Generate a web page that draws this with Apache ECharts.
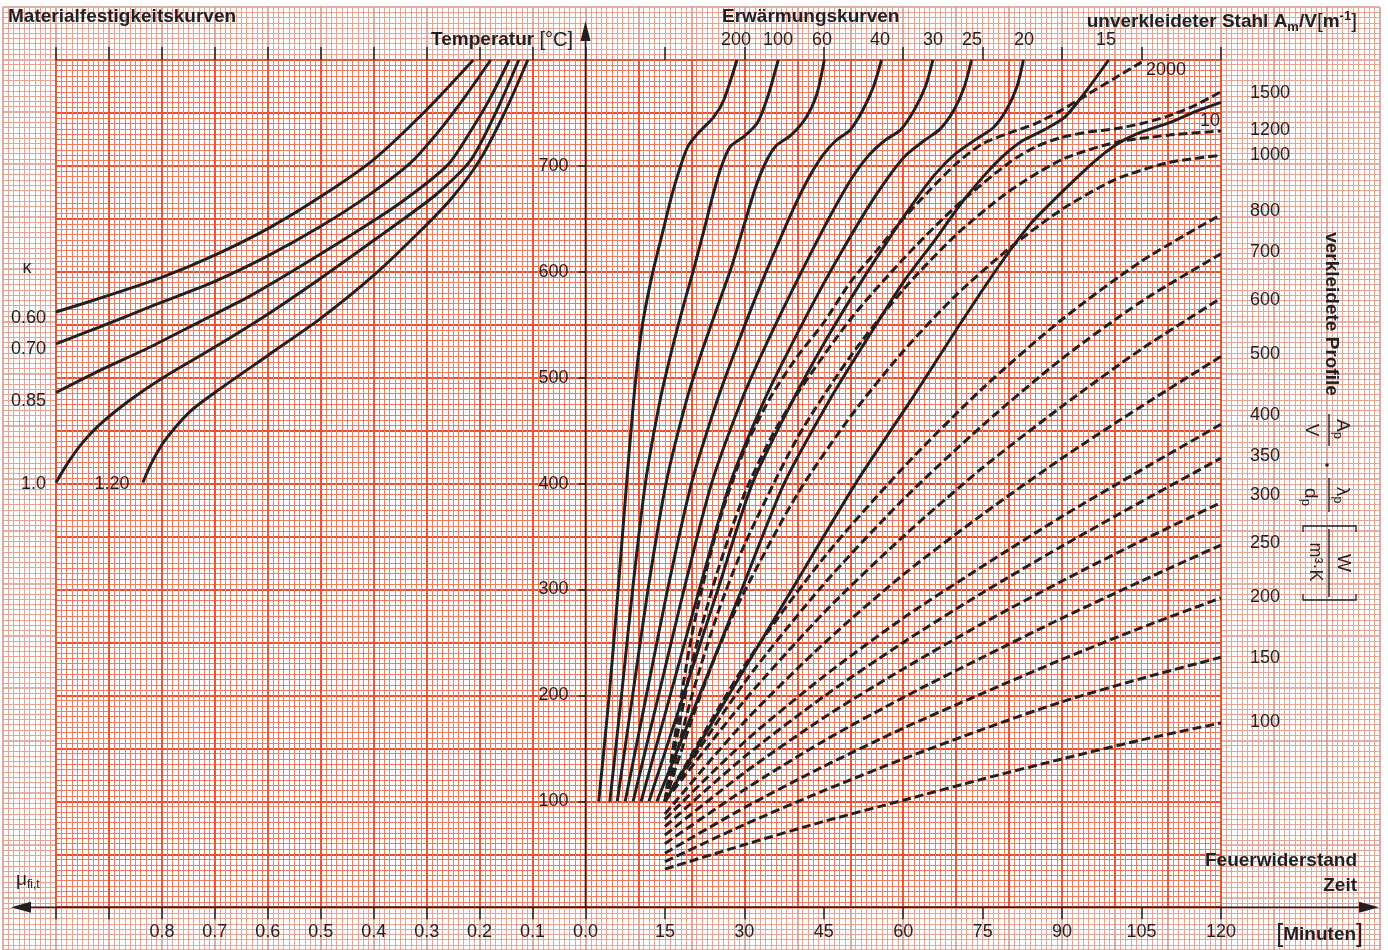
<!DOCTYPE html>
<html><head><meta charset="utf-8">
<script src="https://cdn.jsdelivr.net/npm/echarts@6/dist/echarts.min.js"></script>
<style>html,body{margin:0;padding:0;background:#fff}#c{width:1388px;height:950px}</style>
</head><body><div id="c"></div>
<script>
// ---------------- DATA ----------------
// Material strength curves: [mu_fi,t , temperature °C], one per kappa
const kappaLabels = ['0.60','0.70','0.85','1.0','1.20'];
const kappa060 = [[1.0,562],[0.899,578],[0.799,595],[0.699,616],[0.599,641],[0.5,671],[0.4,706],[0.3,753],[0.212,800]];
const kappa070 = [[1.0,532],[0.917,548],[0.817,568],[0.7,591],[0.6,615],[0.5,643],[0.413,671],[0.33,703],[0.275,734],[0.228,765],[0.179,800]];
const kappa085 = [[1.0,486],[0.917,507],[0.822,529],[0.728,553],[0.634,577],[0.539,605],[0.445,634],[0.35,665],[0.26,701],[0.218,732],[0.18,764],[0.144,800]];
const kappa100 = [[1.0,401],[0.977,420],[0.951,438],[0.917,456],[0.86,479],[0.798,500],[0.7,529],[0.6,560],[0.5,594],[0.399,630],[0.282,673],[0.216,706],[0.167,753],[0.126,800]];
const kappa120 = [[0.836,401],[0.819,420],[0.794,441],[0.747,468],[0.7,486],[0.6,521],[0.5,556],[0.399,597],[0.313,638],[0.252,670],[0.199,706],[0.152,751],[0.109,800]];

// Heating curves, unclad steel (solid): [minutes, °C], labelled by A_m/V
const steelLabels = ['200','100','60','40','30','25','20','15','10'];
const steel200 = [[2.5,100],[4.4,196],[6,290],[7.5,384],[9.1,479],[10.6,545],[12.5,595],[14.5,636],[16.4,674],[17.9,699],[19.3,718],[21.3,731],[24.2,746],[26.1,762],[28.6,800]];
const steel100 = [[4.6,100],[6.8,200],[8.9,300],[11.3,400],[14.1,479],[16.5,530],[18.6,570],[20.3,600],[22.2,636],[24.2,675],[25.7,700],[27.3,718],[30,728],[32.5,741],[34.4,765],[36.4,800]];
const steel60 = [[6,100],[8.9,200],[11.8,300],[15.2,400],[19.1,479],[22,525],[25,568],[27.6,605],[30,645],[32,678],[34,703],[36,719],[38.8,729],[41.7,746],[43.7,768],[45.1,800]];
const steel40 = [[7.5,100],[11.5,200],[15.5,300],[20,400],[24.9,479],[28.6,530],[32.3,578],[35.8,620],[39.3,660],[42.3,690],[44.8,710],[47.3,724],[50,734],[52.3,752],[54.4,775],[55.9,800]];
const steel30 = [[9,100],[13.8,200],[18.6,300],[23.8,400],[29.5,479],[34,530],[38.5,577],[42.8,620],[47,660],[50.5,690],[53.5,710],[56.5,724],[59.5,734],[62,752],[64.2,775],[65.6,800]];
const steel25 = [[10.5,100],[16,200],[21.5,300],[27.3,400],[33.8,479],[38.8,530],[43.8,578],[48.5,620],[53,658],[57,688],[60.5,710],[64,724],[67,735],[69.5,752],[71.5,774],[72.9,800]];
const steel20 = [[12,100],[18.5,200],[25,300],[31.5,400],[39.2,479],[45,532],[51,582],[56.5,625],[61.5,662],[66,692],[70,712],[74,726],[77,736],[79.5,753],[81.5,775],[82.7,800]];
const steel15 = [[13.5,100],[21.5,200],[29.5,300],[37.5,400],[46.1,479],[53,535],[60,590],[66,630],[71,665],[75.5,692],[79,710],[82.6,724],[86.6,734],[90.5,746],[94.3,769],[98.8,800]];
const steel10 = [[15,100],[27,200],[39,300],[51,400],[61.5,479],[70,545],[78,605],[84,645],[88.5,668],[92.4,687],[96.3,705],[100.2,720],[104,730],[110.9,742],[115,751],[120,760]];

// Heating curves, clad profiles (dashed): [minutes, °C], labelled by Ap/V * lambda_p/d_p
const cladLabels = ['2000','1500','1200','1000','800','700','600','500','400','350','300','250','200','150','100'];
const clad2000 = [[15,100],[20,255],[25,360],[30,432],[35,482],[40,520],[45,552],[50,590],[55,620],[60,650],[65,677],[70,702],[75,721],[80,731],[85,740],[90,753],[95,768],[100,783],[105,798]];
const clad1500 = [[15,100],[20,228],[25,318],[30,390],[35,443],[40,485],[50,555],[60,612],[70,662],[80,703],[85,718],[90,727],[95,732],[100,735],[105,740],[110,747],[115,757],[120,770]];
const clad1200 = [[15,100],[20,198],[25,278],[30,342],[40,443],[50,520],[60,583],[70,635],[80,676],[90,706],[100,722],[110,729],[120,733]];
const clad1000 = [[15,100],[20,176],[25,243],[30,298],[40,390],[50,463],[60,525],[70,578],[80,622],[90,659],[100,687],[110,703],[120,710]];
const clad800 = [[15,100],[30,228],[45,330],[60,415],[75,490],[90,555],[105,610],[120,654]];
const clad700 = [[15,100],[30,212],[45,305],[60,385],[75,455],[90,518],[105,572],[120,617]];
const clad600 = [[15,100],[30,195],[45,278],[60,350],[75,415],[90,473],[105,527],[120,575]];
const clad500 = [[15,88],[30,175],[45,249],[60,314],[75,371],[90,424],[105,473],[120,520]];
const clad400 = [[15,83],[30,156],[45,218],[60,273],[75,322],[90,369],[105,413],[120,456]];
const clad350 = [[15,76],[30,142],[45,199],[60,250],[75,297],[90,341],[105,383],[120,424]];
const clad300 = [[15,68],[30,127],[45,179],[60,225],[75,268],[90,308],[105,346],[120,382]];
const clad250 = [[15,60],[30,111],[45,157],[60,198],[75,236],[90,273],[105,308],[120,342]];
const clad200 = [[15,51],[30,94],[45,133],[60,169],[75,202],[90,234],[105,264],[120,292]];
const clad150 = [[15,43],[30,78],[45,110],[60,140],[75,168],[90,194],[105,216],[120,236]];
const clad100 = [[15,36],[30,59],[45,81],[60,101],[75,121],[90,140],[105,158],[120,174]];

// Tick values
const muTicks = [0,0.1,0.2,0.3,0.4,0.5,0.6,0.7,0.8,0.9,1.0];
const timeTicks = [15,30,45,60,75,90,105,120];
const tempTicks = [100,200,300,400,500,600,700];

// ---------------- LAYOUT / STYLE ----------------
const MM = 5.295;               // px per mm of grid paper
const PL = 56, PT = 60;         // plot frame left/top
const PW = 220*MM, PH = 160*MM; // plot frame size
const X0 = PL + 100*MM;         // mu = 0 / time = 0
const PB = PT + PH;
const FONT = "'Liberation Sans', Arial, Helvetica, sans-serif";
const INK = '#231f20';

const chart = echarts.init(document.getElementById('c'), null, {renderer:'canvas', width:1388, height:950});

function paperAxis(gridIndex, min, max, major, minor, majorW, minorW, z){
  return {type:'value', gridIndex, min, max, interval:10, z,
    axisLine:{show:false}, axisTick:{show:false}, axisLabel:{show:false},
    splitLine:{show:true, lineStyle:{color:major, width:majorW}},
    minorTick:{show:false, splitNumber:10},
    minorSplitLine:{show:true, lineStyle:{color:minor, width:minorW}}};
}

const series = [];
function addLine(data, xi, yi, dashed){
  series.push({type:'line', xAxisIndex:xi, yAxisIndex:yi, data, symbol:'none', showSymbol:false,
    smooth:0.25, silent:true, z:10,
    lineStyle:{color:INK, width:3, type: dashed ? [9,4] : 'solid', cap:'butt'}});
}
[kappa060,kappa070,kappa085,kappa100,kappa120].forEach(d=>addLine(d,2,2,false));
[steel200,steel100,steel60,steel40,steel30,steel25,steel20,steel15,steel10].forEach(d=>addLine(d,4,3,false));
[clad2000,clad1500,clad1200,clad1000,clad800,clad700,clad600,clad500,clad400,clad350,clad300,clad250,clad200,clad150,clad100].forEach(d=>addLine(d,4,3,true));

// ---------------- TEXT ----------------
const G = [];
function T(x,y,text,o){ G.push({type:'text', x, y, z:50, silent:true,
  style:Object.assign({text, fontSize:18, fontFamily:FONT, fill:INK, align:'center', verticalAlign:'middle'}, o||{})}); }
const B = {fontWeight:'bold', fontSize:19};
T(8,17,'Materialfestigkeitskurven',Object.assign({align:'left'},B));
T(722,17,'Erwärmungskurven',Object.assign({align:'left'},B));
T(1357,22,'{b|unverkleideter Stahl A}{bs|m}{b|/V}{r|[}{b|m}{bp|-1}{r|]}',{align:'right',
  rich:{b:{fontSize:19,fontWeight:'bold',fontFamily:FONT,fill:INK,lineHeight:24},
        bs:{fontSize:13,fontWeight:'bold',fontFamily:FONT,fill:INK,lineHeight:24,verticalAlign:'bottom'},
        bp:{fontSize:13,fontWeight:'bold',fontFamily:FONT,fill:INK,lineHeight:24,verticalAlign:'top'},
        r:{fontSize:21,fontFamily:FONT,fill:INK,lineHeight:24}}});
T(573,40,'{b|Temperatur }{r|[°C]}',{align:'right',
  rich:{b:{fontSize:19,fontWeight:'bold',fontFamily:FONT,fill:INK},r:{fontSize:20,fontFamily:FONT,fill:INK}}});
T(1357,861,'Feuerwiderstand',Object.assign({align:'right'},B));
T(1357,886,'Zeit',Object.assign({align:'right'},B));
T(1363,935,'{r|[}{b|Minuten}{r|]}',{align:'right',
  rich:{b:{fontSize:19,fontWeight:'bold',fontFamily:FONT,fill:INK},r:{fontSize:25,fontFamily:FONT,fill:INK}}});
T(16,880,'{n|μ}{s|fi,t}',{align:'left',
  rich:{n:{fontSize:19,fontFamily:FONT,fill:INK,lineHeight:22},s:{fontSize:12,fontFamily:FONT,fill:INK,lineHeight:22,verticalAlign:'bottom'}}});
T(27,268,'κ',{fontSize:18});
const kappaLabelPos = [[46,318,'right'],[46,349,'right'],[46,401,'right'],[46,484,'right'],[112,484,'center']];
kappaLabels.forEach((s,i)=>T(kappaLabelPos[i][0],kappaLabelPos[i][1],s,{align:kappaLabelPos[i][2]}));
const steelLabelX = [736,778,822,880,933,972,1024,1106];
steelLabelX.forEach((x,i)=>T(x,40,steelLabels[i]));
T(1210,121,steelLabels[8]);
const cladLabelY = [null,93,130,155,211,252,300,354,415,456,495,543,597,658,722];
T(1146,70,cladLabels[0],{align:'left'});
cladLabels.forEach((s,i)=>{ if(i>0) T(1250,cladLabelY[i],s,{align:'left'}); });
const R = -Math.PI/2;
function TR(x,y,text,o){ G.push({type:'text', x, y, rotation:R, z:50, silent:true,
  style:Object.assign({text, fontSize:18, fontFamily:FONT, fill:INK, align:'center', verticalAlign:'middle'}, o||{})}); }
const subRich = {n:{fontSize:19,fontFamily:FONT,fill:INK,lineHeight:22},s:{fontSize:13,fontFamily:FONT,fill:INK,lineHeight:22,verticalAlign:'bottom'}};
TR(1331,314,'verkleidete Profile',{fontSize:19,fontWeight:'bold'});
TR(1342,429,'{n|A}{s|p}',{rich:subRich});
TR(1311,430,'V',{fontSize:19});
TR(1342,495,'{n|λ}{s|p}',{rich:subRich});
TR(1310,497,'{n|d}{s|p}',{rich:subRich});
TR(1343,563,'W',{fontSize:19});
TR(1315,562,'m³·K',{fontSize:18});
G.push({type:'circle', shape:{cx:1327, cy:465, r:1.8}, style:{fill:INK}, z:50, silent:true});
[[414,446],[478,512],[529,597]].forEach(s=>G.push({type:'line', z:50, silent:true, shape:{x1:1329,y1:s[0],x2:1329,y2:s[1]}, style:{stroke:INK,lineWidth:1.4}}));
G.push({type:'polyline', z:50, silent:true, shape:{points:[[1303,532],[1303,526],[1356,526],[1356,532]]}, style:{stroke:INK,lineWidth:1.3,fill:null}});
G.push({type:'polyline', z:50, silent:true, shape:{points:[[1303,594],[1303,600],[1356,600],[1356,594]]}, style:{stroke:INK,lineWidth:1.3,fill:null}});
G.push({type:'line', z:40, silent:true, shape:{x1:28,y1:PB,x2:1362,y2:PB}, style:{stroke:INK,lineWidth:1.6}});
G.push({type:'polygon', z:40, silent:true, shape:{points:[[11,PB],[31,PB-5.5],[31,PB+5.5]]}, style:{fill:INK}});
G.push({type:'polygon', z:40, silent:true, shape:{points:[[1379,PB],[1359,PB-5.5],[1359,PB+5.5]]}, style:{fill:INK}});
G.push({type:'line', z:40, silent:true, shape:{x1:X0,y1:PB,x2:X0,y2:38}, style:{stroke:INK,lineWidth:1.6}});
G.push({type:'polygon', z:40, silent:true, shape:{points:[[X0,21],[X0-5,41],[X0+5,41]]}, style:{fill:INK}});

const tickStyle = {color:INK, width:1.5};
const option = {
  animation:false,
  backgroundColor:'#ffffff',
  grid:[
    {left:PL-10*MM, top:PB-170*MM, width:260*MM, height:180*MM, show:false, z:0},
    {left:PL, top:PT, width:PW, height:PH, show:true, backgroundColor:'#ffffff', borderWidth:0, z:1},
    {left:PL, top:PT, width:100*MM, height:PH, show:false},
    {left:X0, top:PT, width:120*MM, height:PH, show:false}
  ],
  xAxis:[
    paperAxis(0,-10,250,'#d39a8d','#e9a393',1.6,1,0),
    paperAxis(1,0,220,'#ec4f2f','#f37a5f',1.9,1,2),
    {type:'value', gridIndex:2, min:0, max:1, interval:0.1, inverse:true, position:'bottom', z:3,
      axisLine:{show:false}, splitLine:{show:false},
      axisTick:{show:true, length:12, lineStyle:tickStyle},
      axisLabel:{show:true, margin:16, fontSize:18, fontFamily:FONT, color:INK,
        formatter:v=> v>0.85 ? '' : v.toFixed(1)}},
    {type:'value', gridIndex:2, min:0, max:1, interval:0.1, inverse:true, position:'top', z:3,
      axisLine:{show:false}, splitLine:{show:false}, axisLabel:{show:false},
      axisTick:{show:true, length:13, lineStyle:tickStyle}},
    {type:'value', gridIndex:3, min:0, max:120, interval:15, position:'bottom', z:3,
      axisLine:{show:false}, splitLine:{show:false},
      axisTick:{show:true, length:12, lineStyle:tickStyle, customValues:timeTicks},
      axisLabel:{show:true, margin:16, fontSize:18, fontFamily:FONT, color:INK,
        formatter:v=> v===0 ? '' : String(v)}},
    {type:'value', gridIndex:3, min:0, max:120, interval:15, position:'top', z:3,
      axisLine:{show:false}, splitLine:{show:false}, axisLabel:{show:false},
      axisTick:{show:true, length:13, lineStyle:tickStyle, customValues:timeTicks}}
  ],
  yAxis:[
    paperAxis(0,-10,170,'#d39a8d','#e9a393',1.6,1,0),
    paperAxis(1,0,160,'#ec4f2f','#f37a5f',1.9,1,2),
    {type:'value', gridIndex:2, min:0, max:800, show:false},
    {type:'value', gridIndex:3, min:0, max:800, interval:100, position:'left', z:3,
      axisLine:{show:false}, splitLine:{show:false},
      axisTick:{show:true, length:7, lineStyle:tickStyle, customValues:tempTicks},
      axisLabel:{show:true, margin:17, fontSize:18, fontFamily:FONT, color:INK,
        formatter:v=> (v===0||v===800) ? '' : String(v)}}
  ],
  series,
  graphic: G
};
chart.setOption(option);
</script>
</body></html>
